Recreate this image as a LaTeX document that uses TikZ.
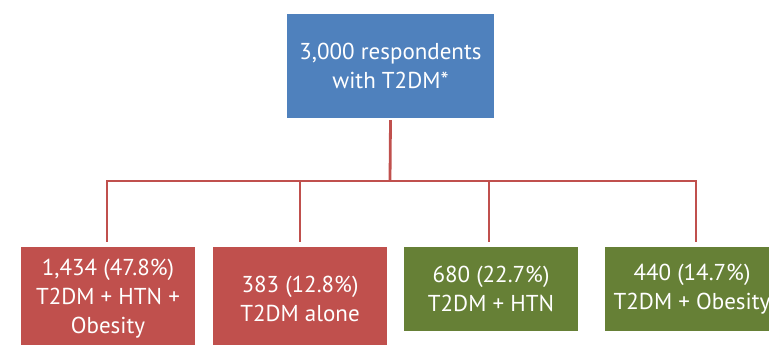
\documentclass[tikz,border=0pt]{standalone}
\usepackage{fontspec}
\setmainfont{PT Sans}
\definecolor{boxblue}{HTML}{4F81BD}
\definecolor{boxred}{HTML}{C0504D}
\definecolor{boxgreen}{HTML}{668036}
\definecolor{linered}{HTML}{C0504D}
\begin{document}
\begin{tikzpicture}[x=1pt,y=-1pt,
  box/.style={draw=none,text=white,align=center,inner sep=0pt,
    font=\fontsize{23}{29}\selectfont},
  wire/.style={draw=linered,line width=2.8pt}]
\useasboundingbox (0,0) rectangle (769,345);
\clip (0,0) rectangle (769,345);
\node[box,fill=boxblue,minimum width=207pt,minimum height=104pt] (top) at (390.5,66) {3,000 respondents\\with T2DM*};
\node[box,fill=boxred,minimum width=174pt,minimum height=104pt] (a) at (108,299) {1,434 (47.8\%)\\T2DM + HTN +\\Obesity};
\node[box,fill=boxred,minimum width=174pt,minimum height=104pt] (b) at (300,299) {383 (12.8\%)\\T2DM alone};
\node[box,fill=boxgreen,minimum width=174pt,minimum height=84pt] (c) at (491,289) {680 (22.7\%)\\T2DM + HTN};
\node[box,fill=boxgreen,minimum width=174pt,minimum height=84pt] (d) at (692,289) {440 (14.7\%)\\T2DM + Obesity};
\coordinate (hub) at (390,181);
\coordinate (ha) at (107,181);
\coordinate (hd) at (696,181);
\draw[wire] ([yshift=-2pt]top.south) -- (hub);
\draw[wire,line cap=rect] (ha) -- (hd);
\draw[wire] (ha) -- (107,242);
\draw[wire] (300,181) -- (300,242);
\draw[wire] (489,181) -- (489,242);
\draw[wire] (hd) -- (696,242);
\end{tikzpicture}
\end{document}
